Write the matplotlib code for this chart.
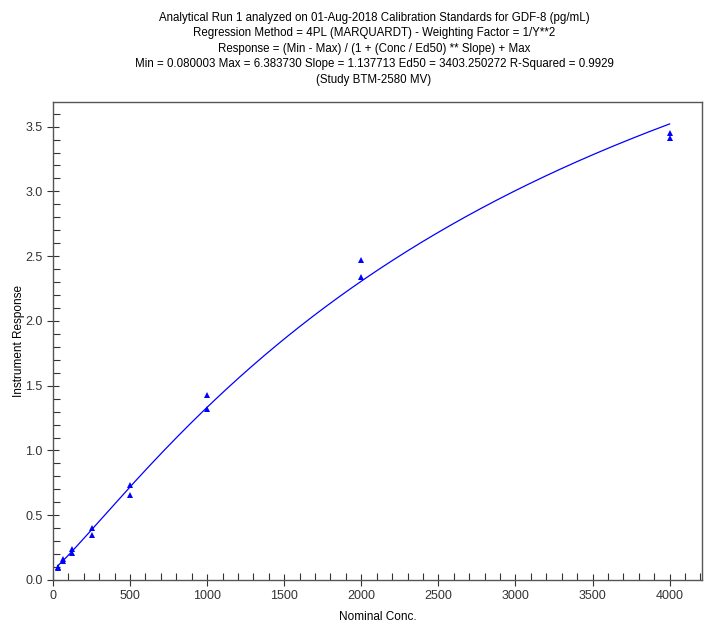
import matplotlib.pyplot as plt
import numpy as np

plt.rcParams['font.family'] = ['Liberation Sans', 'DejaVu Sans']

# calibration standards (nominal conc) and measured responses
conc = [31.25, 31.25, 62.5, 62.5, 125, 125, 250, 250, 500, 500,
        1000, 1000, 2000, 2000, 4000, 4000]
response = [0.10, 0.09, 0.16, 0.15, 0.24, 0.21, 0.40, 0.35, 0.73, 0.66,
            1.43, 1.32, 2.47, 2.34, 3.45, 3.41]

# fitted 4PL parameters
p_min = 0.080003
p_max = 6.383730
p_slope = 1.137713
p_ed50 = 3403.250272

title = ("Analytical Run 1 analyzed on 01-Aug-2018 Calibration Standards for GDF-8 (pg/mL)\n"
         "Regression Method = 4PL (MARQUARDT) - Weighting Factor = 1/Y**2\n"
         "Response = (Min - Max) / (1 + (Conc / Ed50) ** Slope) + Max\n"
         "Min = 0.080003 Max = 6.383730 Slope = 1.137713 Ed50 = 3403.250272 R-Squared = 0.9929\n"
         "(Study BTM-2580 MV)")

fig = plt.figure(figsize=(7.19, 6.24), dpi=100)
ax = fig.add_axes([53 / 719, 1 - 580 / 624, (702 - 53) / 719, (580 - 102) / 624])

xs = np.linspace(min(conc), max(conc), 400)
ys = (p_min - p_max) / (1 + (xs / p_ed50) ** p_slope) + p_max
ax.plot(xs, ys, color='#0000ff', lw=0.9)
ax.plot(conc, response, '^', color='#0000ff', ms=4.5, mew=0)

ax.set_xlim(0, 4210)
ax.set_ylim(0, 3.69)
ax.set_xticks(np.arange(0, 4001, 500))
ax.set_xticks(np.arange(0, 4201, 100), minor=True)
ax.set_yticks(np.arange(0, 3.51, 0.5))
ax.set_yticks(np.arange(0, 3.69, 0.1), minor=True)
ax.yaxis.set_major_formatter(plt.FormatStrFormatter('%.1f'))
ax.tick_params(which='major', direction='inout', length=8, width=0.8, labelsize=9, colors='#333333')
ax.tick_params(which='minor', direction='in', length=5, width=0.8, colors='#333333')
for s in ax.spines.values():
    s.set_color('#555555')
    s.set_linewidth(1)

ax.set_xlabel('Nominal Conc.', fontsize=8.5, labelpad=6)
ax.set_ylabel('Instrument Response', fontsize=8.5, labelpad=0)
fig.text(374 / 719, 1 - 12 / 624, title, ha='center', va='top', fontsize=8.3, linespacing=1.38)

fig.savefig('out.png', dpi=100)
